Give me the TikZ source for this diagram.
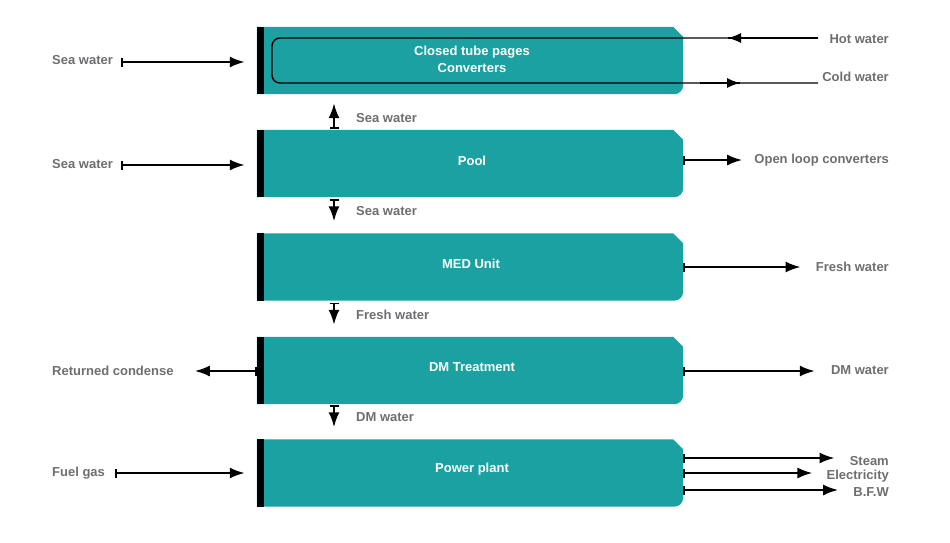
\documentclass[tikz,border=0pt]{standalone}
\usepackage{fontspec}
\setmainfont{Liberation Sans}
\usetikzlibrary{arrows.meta,calc,decorations.markings}
\definecolor{boxteal}{RGB}{27,161,161}
\definecolor{labgrey}{RGB}{109,110,113}
\begin{document}
\begin{tikzpicture}[x=1pt,y=1pt,
  unit/.style={minimum width=426pt,minimum height=67pt,inner sep=0pt,
    text=white,font=\fontsize{13}{17}\selectfont\bfseries,align=center},
  lab/.style={inner sep=0pt,text=labgrey,font=\fontsize{13}{15}\selectfont\bfseries},
  barr/.style={line width=2.2pt,{Bar[width=9pt,line width=1.6pt]}-{Latex[length=15pt,width=11pt]}},
  loopline/.style={line width=1.4pt},
  midleft/.style={postaction={decorate},decoration={markings,
    mark=at position #1 with {\arrow{Latex[length=13pt,width=10pt]}}}}
]
\useasboundingbox (0,0) rectangle (950,-542);
% unit boxes
\node[unit] (ctp) at (470,-60.5) {};
\node[unit] (pool) at (470,-163.5) {};
\node[unit] (med) at (470,-267) {};
\node[unit] (dm) at (470,-370.5) {};
\node[unit] (pp) at (470,-473) {};
\foreach \b in {ctp,pool,med,dm,pp}{
  \fill[boxteal] (\b.north west) -- ([xshift=-10pt]\b.north east) -- ([yshift=-10pt]\b.north east)
    -- ([yshift=9pt]\b.south east) arc[start angle=0,end angle=-90,radius=9pt] -- (\b.south west) -- cycle;
  \fill[black] (\b.north west) rectangle ([xshift=7pt]\b.south west);
}
\node[unit,minimum width=0pt,minimum height=0pt] (ctpt) at (472,-59.5) {Closed tube pages\\Converters};
\node[unit,minimum width=0pt,minimum height=0pt] (poolt) at (472,-161) {Pool};
\node[unit,minimum width=0pt,minimum height=0pt] (medt) at (471,-264) {MED Unit};
\node[unit,minimum width=0pt,minimum height=0pt] (dmt) at (472,-367) {DM Treatment};
\node[unit,minimum width=0pt,minimum height=0pt] (ppt) at (472,-469) {Power plant};

% closed loop
\node[lab,anchor=east] (hot) at (889,-39) {Hot water};
\node[lab,anchor=east] (cold) at (889,-77) {Cold water};
\coordinate (hotend) at (818,-38);
\coordinate (coldend) at (818,-83);
\draw[loopline,rounded corners=8pt] (hotend) -- (272,-38) -- (272,-83) -- (coldend);
\draw[loopline,midleft=1] (hotend) -- (728,-38);
\draw[loopline,midleft=1] (700,-83) -- (740,-83);

% left side
\node[lab,anchor=west] (sw1) at (52,-60) {Sea water};
\node[lab,anchor=west] (sw2) at (52,-164) {Sea water};
\node[lab,anchor=west] (rc) at (52,-371) {Returned condense};
\node[lab,anchor=west] (fg) at (52,-473) {Fuel gas};
\draw[barr,shorten <=8pt,shorten >=12pt] (sw1.east |- 0,-62) -- (ctp.west |- 0,-62);
\draw[barr,shorten <=8pt,shorten >=12pt] (sw2.east |- 0,-165) -- (pool.west |- 0,-165);
\draw[barr,shorten >=21pt] (dm.west |- 0,-371) -- (rc.east |- 0,-371);
\draw[barr,shorten <=10pt,shorten >=12pt] (fg.east |- 0,-473) -- (pp.west |- 0,-473);

% vertical links
\node[lab,anchor=west] (v1) at (356,-118) {Sea water};
\node[lab,anchor=west] (v2) at (356,-211) {Sea water};
\node[lab,anchor=west] (v3) at (356,-315) {Fresh water};
\node[lab,anchor=west] (v4) at (356,-417) {DM water};
\draw[barr,shorten <=1pt,shorten >=9pt] ([xshift=-136pt]pool.north) -- ([xshift=-136pt]ctp.south);
\draw[barr,shorten <=2pt,shorten >=12pt] ([xshift=-136pt]pool.south) -- ([xshift=-136pt]med.north);
\draw[barr,shorten <=2pt,shorten >=12pt] ([xshift=-136pt]med.south) -- ([xshift=-136pt]dm.north);
\draw[barr,shorten <=1pt,shorten >=12pt] ([xshift=-136pt]dm.south) -- ([xshift=-136pt]pp.north);

% right side
\node[lab,anchor=east] (olc) at (889,-160) {Open loop converters};
\node[lab,anchor=east] (fw) at (889,-267) {Fresh water};
\node[lab,anchor=east] (dmw) at (889,-370) {DM water};
\node[lab,anchor=east] (st) at (889,-461) {Steam};
\node[lab,anchor=east] (el) at (889,-476) {Electricity};
\node[lab,anchor=east] (bfw) at (889,-492) {B.F.W};
\draw[barr,shorten >=12pt] ([yshift=3.5pt]pool.east) -- ([yshift=3.5pt]pool.east -| olc.west);
\draw[barr,shorten >=15pt] (med.east) -- (med.east -| fw.west);
\draw[barr,shorten >=16pt] ([yshift=-0.5pt]dm.east) -- ([yshift=-0.5pt]dm.east -| dmw.west);
\draw[barr,shorten >=15pt] ([yshift=15pt]pp.east) -- ([yshift=15pt]pp.east -| st.west);
\draw[barr,shorten >=14pt] (pp.east) -- (pp.east -| el.west);
\draw[barr,shorten >=15pt] ([yshift=-17pt]pp.east) -- ([yshift=-17pt]pp.east -| bfw.west);
\end{tikzpicture}
\end{document}
